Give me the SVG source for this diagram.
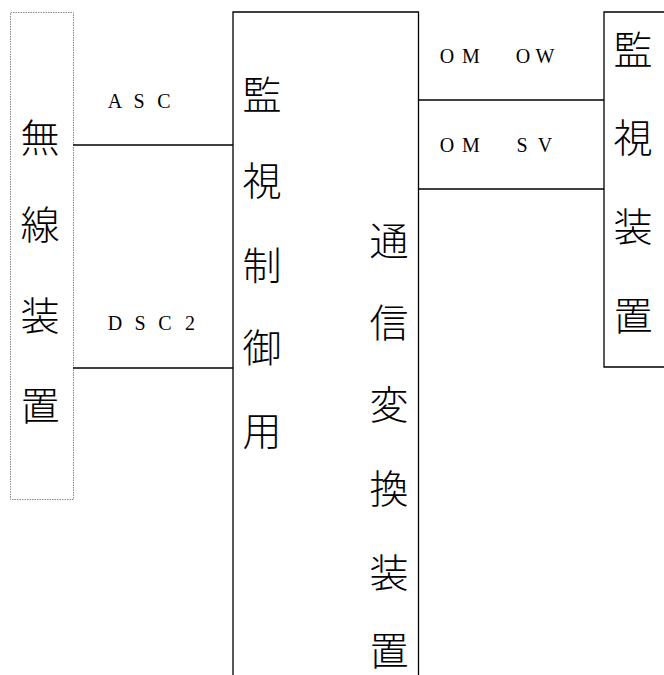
<svg xmlns="http://www.w3.org/2000/svg" width="664" height="675" viewBox="0 0 664 675">
<style>
.box{fill:none;stroke:#000;stroke-width:1.3}
.dot{fill:none;stroke:#8a8a8a;stroke-width:1;stroke-dasharray:1.5,1}
.ln{stroke:#000;stroke-width:1.3;fill:none}
.cjk{font-family:"Noto Sans CJK JP","Noto Sans CJK SC",sans-serif;font-size:39px;font-weight:300;fill:#000;text-anchor:middle;dominant-baseline:central}
.lat{font-family:"Liberation Serif",serif;font-size:20px;fill:#000;text-anchor:middle}
</style>
<rect width="664" height="675" fill="#fff"/>
<g id="node-radio">
<rect class="dot" x="10.5" y="12.5" width="63" height="487"/>
<text class="cjk" x="40" y="135">無</text>
<text class="cjk" x="40" y="222">線</text>
<text class="cjk" x="40" y="313">装</text>
<text class="cjk" x="40" y="403">置</text>
</g>
<g id="node-control">
<path class="box" d="M233,676 V12 H418.5 V676"/>
<text class="cjk" x="262" y="92">監</text>
<text class="cjk" x="262" y="178">視</text>
<text class="cjk" x="262" y="263">制</text>
<text class="cjk" x="262" y="345">御</text>
<text class="cjk" x="262" y="428">用</text>
<text class="cjk" x="389" y="238">通</text>
<text class="cjk" x="389" y="320">信</text>
<text class="cjk" x="389" y="402">変</text>
<text class="cjk" x="389" y="486">換</text>
<text class="cjk" x="389" y="570">装</text>
<text class="cjk" x="389" y="648">置</text>
</g>
<g id="node-monitor">
<path class="box" d="M665,12 H604 V367 H665"/>
<text class="cjk" x="633" y="47">監</text>
<text class="cjk" x="633" y="135">視</text>
<text class="cjk" x="633" y="224">装</text>
<text class="cjk" x="633" y="313">置</text>
</g>
<g id="connectors">
<line class="ln" x1="73" y1="145" x2="233" y2="145"/>
<line class="ln" x1="73" y1="368" x2="233" y2="368"/>
<line class="ln" x1="418.5" y1="100" x2="604" y2="100"/>
<line class="ln" x1="418.5" y1="189" x2="604" y2="189"/>
<text class="lat" x="115 139 164" y="108">ASC</text>
<text class="lat" x="115 140 165 190" y="330">DSC2</text>
<text class="lat" x="447 471 523 545" y="63">OMOW</text>
<text class="lat" x="447 471 522 545" y="152">OMSV</text>
</g>
</svg>
